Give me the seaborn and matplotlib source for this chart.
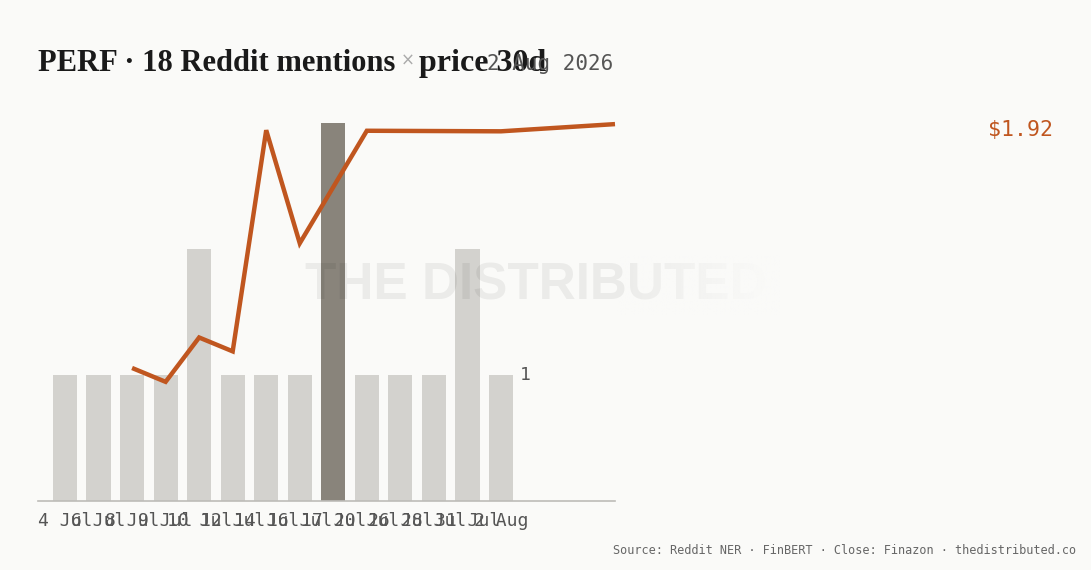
import matplotlib
matplotlib.use("Agg")
import matplotlib.pyplot as plt
import seaborn as sns
import numpy as np
import pandas as pd

# ---- data ----
dates = ["4 Jul", "6 Jul", "8 Jul", "9 Jul", "10 Jul", "12 Jul", "14 Jul",
         "16 Jul", "17 Jul", "20 Jul", "26 Jul", "28 Jul", "31 Jul", "2 Aug"]
mentions = [1, 1, 1, 1, 2, 1, 1, 1, 3, 1, 1, 1, 2, 1]
price_pos = [2, 3, 4, 5, 6, 7, 9, 13, 16.4]
price_close = [1.48, 1.455, 1.535, 1.51, 1.909, 1.705, 1.908, 1.907, 1.92]
title_main = "PERF · 18 Reddit mentions"
title_tail = "price 30d"
date_label = "2 Aug 2026"
last_label = "$1.92"
source_text = "Source: Reddit NER · FinBERT · Close: Finazon · thedistributed.co"

BG = "#fafaf8"
LIGHT = "#d3d2ce"
DARK = "#89847b"
ORANGE = "#c0561f"
GREY = "#555555"

sns.set_theme(style="white")
plt.rcParams["font.family"] = ["DejaVu Sans Mono", "DejaVu Sans"]

W, H = 1091, 570
fig = plt.figure(figsize=(W / 100, H / 100), dpi=100, facecolor=BG)

def fx(px):
    return px / W

def fy(py):
    return 1 - py / H

ax = fig.add_axes([fx(38), fy(501), fx(615) - fx(38), fy(123) - fy(501)])
ax.set_facecolor(BG)

df = pd.DataFrame({"date": dates, "mentions": mentions})
peak = max(mentions)
colors = {d: (DARK if m == peak else LIGHT) for d, m in zip(dates, mentions)}
sns.barplot(data=df, x="date", y="mentions", hue="date", palette=colors,
            legend=False, width=0.72, saturation=1, linewidth=0, ax=ax, zorder=2)
ax.set_xlim(-0.805, 16.4)
ax.set_ylim(0, peak)
for s in ["top", "right", "left"]:
    ax.spines[s].set_visible(False)
ax.spines["bottom"].set_color("#bdbcb8")
ax.spines["bottom"].set_linewidth(1.2)
ax.set_yticks([])
ax.set_xlabel("")
ax.set_ylabel("")
ax.tick_params(axis="x", length=0, pad=8, labelsize=13, labelcolor=GREY)

# value marker at right of last bar
ax.text(len(dates) - 1 + 0.55, 1, "1", fontsize=13, color=GREY,
        va="center", ha="left")

# price line on twin axis
ax2 = ax.twinx()
pdf = pd.DataFrame({"pos": price_pos, "close": price_close})
sns.lineplot(data=pdf, x="pos", y="close", color=ORANGE, linewidth=3.2,
             ax=ax2, zorder=5)
ax2.set_ylim(1.24, 1.922)
ax2.set_xlim(-0.805, 16.4)
ax2.axis("off")
for l in ax2.lines:
    l.set_clip_on(False)
    l.set_solid_capstyle("butt")
    l.set_solid_joinstyle("miter")

# watermark
fig.text(fx(305), fy(286), "THE DISTRIBUTED", fontsize=37, color="black",
         alpha=0.06, family=["Liberation Sans", "DejaVu Sans"], weight="bold",
         va="center", ha="left", zorder=10)
# fade right end of watermark
fade = fig.add_axes([fx(616), fy(315), fx(780) - fx(616), fy(255) - fy(315)], zorder=11)
grad = np.zeros((2, 200, 4))
bgc = matplotlib.colors.to_rgb(BG)
grad[..., :3] = bgc
grad[..., 3] = np.clip(np.linspace(0, 1.1, 200), 0, 1) ** 0.9
fade.imshow(grad, aspect="auto", extent=[0, 1, 0, 1], interpolation="bilinear")
fade.set_xlim(0, 1)
fade.set_ylim(0, 1)
fade.axis("off")

# last price label
fig.text(fx(1053), fy(130), last_label, fontsize=15.5, color=ORANGE,
         ha="right", va="center")

# title
tfont = dict(family=["Liberation Serif", "DejaVu Serif"], weight="bold",
             fontsize=22, color="#1a1a1a")
t1 = fig.text(fx(38), fy(71), title_main, va="baseline", ha="left", **tfont)
fig.canvas.draw()
r = fig.canvas.get_renderer()
bb = t1.get_window_extent(r)
xpix = bb.x1 + 5
t2 = fig.text(xpix / W, fy(66), "×", va="baseline", ha="left",
              fontsize=12, color="#aaaaaa", family=["DejaVu Sans"])
bb2 = t2.get_window_extent(r)
fig.text((bb2.x1 + 5) / W, fy(71), title_tail, va="baseline", ha="left",
         **{**tfont, "fontsize": 23})

fig.text(fx(613), fy(70), date_label, fontsize=15, color=GREY,
         ha="right", va="baseline")

fig.text(fx(1076), fy(551), source_text, fontsize=8.6, color="#666666",
         ha="right", va="center")

fig.savefig("out.png", dpi=100, facecolor=BG)
